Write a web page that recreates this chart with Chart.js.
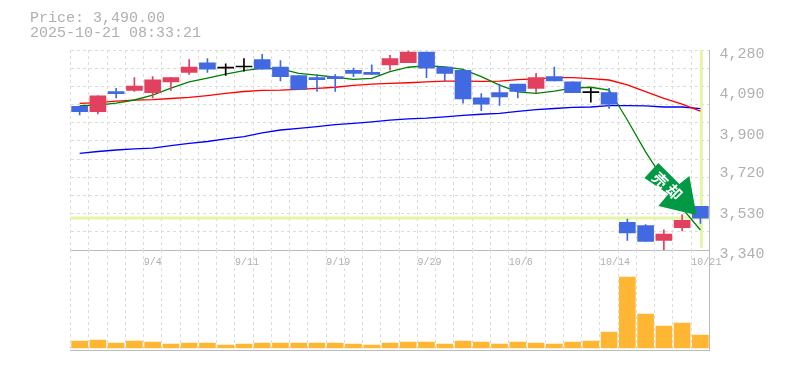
<!DOCTYPE html>
<html>
<head>
<meta charset="utf-8">
<style>
  html, body { margin: 0; background: #fff; overflow: hidden; }
  canvas { position: absolute; left: 0; top: 0; }
  #price { position: absolute; left: 30px; top: 11px; font: 15px/15px "Liberation Mono", monospace; color: #b0b0b0; z-index: 2; white-space: pre; }
</style>
</head>
<body>
<div id="price">Price: 3,490.00
2025-10-21 08:33:21</div>
<canvas id="main" width="785" height="370"></canvas>
<canvas id="volume" width="785" height="370"></canvas>
<script src="https://cdn.jsdelivr.net/npm/chart.js"></script>
<script>
const dates = ["8/29", "9/1", "9/2", "9/3", "9/4", "9/5", "9/8", "9/9", "9/10", "9/11", "9/12", "9/16", "9/17", "9/18", "9/19", "9/22", "9/24", "9/25", "9/26", "9/29", "9/30", "10/1", "10/2", "10/3", "10/6", "10/7", "10/8", "10/9", "10/10", "10/14", "10/15", "10/16", "10/17", "10/20", "10/21"];
const shownDates = ["9/4", "9/11", "9/19", "9/29", "10/6", "10/14", "10/21"];

const opens = [4015, 3990, 4085, 4090, 4080, 4130, 4175, 4220, 4195, 4200, 4235, 4200, 4160, 4150, 4155, 4185, 4175, 4210, 4220, 4270, 4200, 4185, 4055, 4080, 4120, 4100, 4155, 4130, 4080, 4080, 3470, 3455, 3385, 3445, 3545];
const closes = [3990, 4065, 4075, 4110, 4140, 4150, 4200, 4190, 4195, 4200, 4190, 4155, 4095, 4140, 4145, 4170, 4165, 4240, 4270, 4195, 4170, 4050, 4025, 4060, 4085, 4150, 4135, 4080, 4080, 4025, 3420, 3380, 3415, 3480, 3490];
const highs = [4015, 4065, 4100, 4150, 4155, 4150, 4235, 4240, 4215, 4240, 4260, 4230, 4160, 4165, 4165, 4195, 4210, 4255, 4275, 4270, 4200, 4185, 4075, 4120, 4120, 4170, 4200, 4130, 4100, 4100, 3485, 3460, 3435, 3505, 3545];
const lows = [3975, 3980, 4055, 4085, 4055, 4090, 4165, 4175, 4160, 4180, 4190, 4135, 4095, 4085, 4085, 4155, 4165, 4185, 4220, 4150, 4135, 4030, 3995, 4020, 4055, 4080, 4135, 4080, 4035, 4005, 3385, 3380, 3340, 3430, 3465];

const maShort = [4019, 4021, 4030, 4045, 4068, 4101, 4130, 4148, 4167, 4183, 4195, 4191, 4170, 4162, 4152, 4142, 4147, 4178, 4199, 4206, 4201, 4189, 4155, 4115, 4083, 4076, 4087, 4101, 4105, 4092, 3951, 3801, 3669, 3537, 3434];
const maMiddle = [4029, 4033, 4040, 4044, 4047, 4052, 4057, 4066, 4076, 4085, 4090, 4091, 4095, 4100, 4105, 4114, 4120, 4123, 4126, 4130, 4134, 4134, 4133, 4134, 4141, 4144, 4150, 4150, 4145, 4139, 4116, 4084, 4053, 4026, 3993];
const maLong = [3794, 3803, 3810, 3815, 3819, 3831, 3841, 3850, 3862, 3873, 3890, 3904, 3912, 3920, 3929, 3935, 3942, 3950, 3956, 3960, 3966, 3973, 3978, 3982, 3992, 4000, 4005, 4010, 4012, 4019, 4019, 4017, 4012, 4012, 4004];

const volumes = [7, 8, 5, 7, 6, 4, 5, 5, 3, 4, 5, 5, 5, 5, 5, 4, 3, 5, 6, 6, 4, 7, 6, 4, 6, 5, 4, 6, 7, 16, 71, 34, 22, 25, 13];

const priceTicks = [4280, 4090, 3900, 3720, 3530, 3340];
const priceGrid = [4280, 4195, 4110, 4025, 3940, 3855, 3765, 3680, 3595, 3510, 3425, 3340];
const lastPrice = 3490;
const signalText = ["売", "却"];

const GRID = "#ddd";
const AXIS = "#bbb";
const TEXT = "#b0b0b0";
const MONO = "Liberation Mono";

function candleColor(i) {
  if (closes[i] > opens[i]) return "#e2405f";
  if (closes[i] < opens[i]) return "#4169e1";
  return "#000";
}

function maLine(data, color) {
  return { type: "line", data, borderColor: color, borderWidth: 1.3, pointRadius: 0, tension: 0, order: 3, yAxisID: "y" };
}

// the lime cross marks the latest price, drawn under the candles
const cursor = {
  id: "cursor",
  beforeDatasetsDraw(chart) {
    const { ctx, chartArea, scales } = chart;
    const x = scales.x.getPixelForValue(dates.length - 1);
    const y = scales.y.getPixelForValue(lastPrice);
    ctx.save();
    ctx.strokeStyle = "#e4f5a8";
    ctx.lineWidth = 3;
    ctx.beginPath();
    ctx.moveTo(chartArea.left, y);
    ctx.lineTo(chartArea.right, y);
    ctx.moveTo(x + 1, chartArea.top);
    ctx.lineTo(x + 1, chartArea.bottom - 2);
    ctx.stroke();
    ctx.restore();
  },
};

// signal arrow, placed relative to the last candle
const signal = {
  id: "signal",
  afterDatasetsDraw(chart) {
    const { ctx, scales } = chart;
    const x = scales.x.getPixelForValue(dates.length - 1);
    const y = scales.y.getPixelForValue(lastPrice);
    const shape = [[-56, -40], [-42, -55], [-21, -34], [-11, -42], [-4, -3], [-42, -12], [-32, -24]];
    ctx.save();
    ctx.fillStyle = "#009944";
    ctx.beginPath();
    shape.forEach((p) => ctx.lineTo(x + p[0], y + p[1]));
    ctx.closePath();
    ctx.fill();
    ctx.fillStyle = "#fff";
    ctx.font = 'bold 15px "Noto Sans CJK JP"';
    ctx.textAlign = "center";
    ctx.textBaseline = "middle";
    signalText.forEach((glyph, i) => {
      ctx.save();
      ctx.translate(x - 40 + i * 14, y - 38 + i * 12);
      ctx.rotate(Math.PI / 4);
      ctx.fillText(glyph, 0, 0);
      ctx.restore();
    });
    ctx.restore();
  },
};

new Chart(document.querySelector("#main"), {
  data: {
    labels: dates,
    datasets: [
      {
        type: "bar",
        data: dates.map((_, i) => [opens[i], closes[i]]),
        backgroundColor: dates.map((_, i) => candleColor(i)),
        barThickness: 16,
        minBarLength: 1,
        grouped: false,
        order: 1,
        yAxisID: "y",
      },
      {
        type: "bar",
        data: dates.map((_, i) => [lows[i], highs[i]]),
        backgroundColor: dates.map((_, i) => candleColor(i)),
        barThickness: 1,
        grouped: false,
        order: 2,
        yAxisID: "y",
      },
      maLine(maShort, "#008000"),
      maLine(maMiddle, "#ff0000"),
      maLine(maLong, "#0000ff"),
    ],
  },
  plugins: [cursor, signal],
  options: {
    responsive: false,
    animation: false,
    layout: { padding: { left: 70.5, top: 50, bottom: 100 } },
    plugins: { legend: { display: false }, tooltip: { enabled: false } },
    scales: {
      x: {
        offset: true,
        grid: { color: GRID, offset: true, drawTicks: false },
        border: { color: AXIS, dash: [3, 3] },
        afterFit: (s) => { s.height = 20; },
        ticks: {
          autoSkip: false,
          maxRotation: 0,
          align: "start",
          labelOffset: -9,
          padding: 6,
          color: TEXT,
          font: { family: MONO, size: 10 },
          callback(value) {
            const label = this.getLabelForValue(value);
            return shownDates.includes(label) ? label : "";
          },
        },
      },
      y: {
        position: "right",
        min: 3340,
        max: 4280,
        afterBuildTicks: (s) => { s.ticks = priceTicks.map((value) => ({ value })); },
        afterFit: (s) => { s.width = 75.5; },
        grid: { display: false },
        border: { color: AXIS },
        ticks: {
          labelOffset: 4,
          padding: 2,
          color: TEXT,
          font: { family: MONO, size: 15 },
          callback: (value) => value.toLocaleString("en-US"),
        },
      },
      yGrid: {
        position: "left",
        min: 3340,
        max: 4280,
        afterBuildTicks: (s) => { s.ticks = priceGrid.map((value) => ({ value })); },
        afterFit: (s) => { s.width = 0; },
        grid: { color: GRID, drawTicks: false },
        border: { display: false, dash: [3, 3] },
        ticks: { display: false },
      },
    },
  },
});

new Chart(document.querySelector("#volume"), {
  type: "bar",
  data: {
    labels: dates,
    datasets: [
      {
        data: volumes,
        backgroundColor: "#ffb733",
        barThickness: 16,
      },
    ],
  },
  options: {
    responsive: false,
    animation: false,
    layout: { padding: { left: 70.5, top: 250, bottom: 20 } },
    plugins: { legend: { display: false }, tooltip: { enabled: false } },
    scales: {
      x: {
        offset: true,
        grid: { color: GRID, offset: true, drawTicks: false },
        border: { color: AXIS, dash: [3, 3] },
        ticks: { display: false },
      },
      y: {
        position: "right",
        min: -2,
        max: 98,
        afterFit: (s) => { s.width = 75.5; },
        grid: { display: false },
        border: { color: AXIS },
        ticks: { display: false },
      },
    },
  },
});
</script>
</body>
</html>
